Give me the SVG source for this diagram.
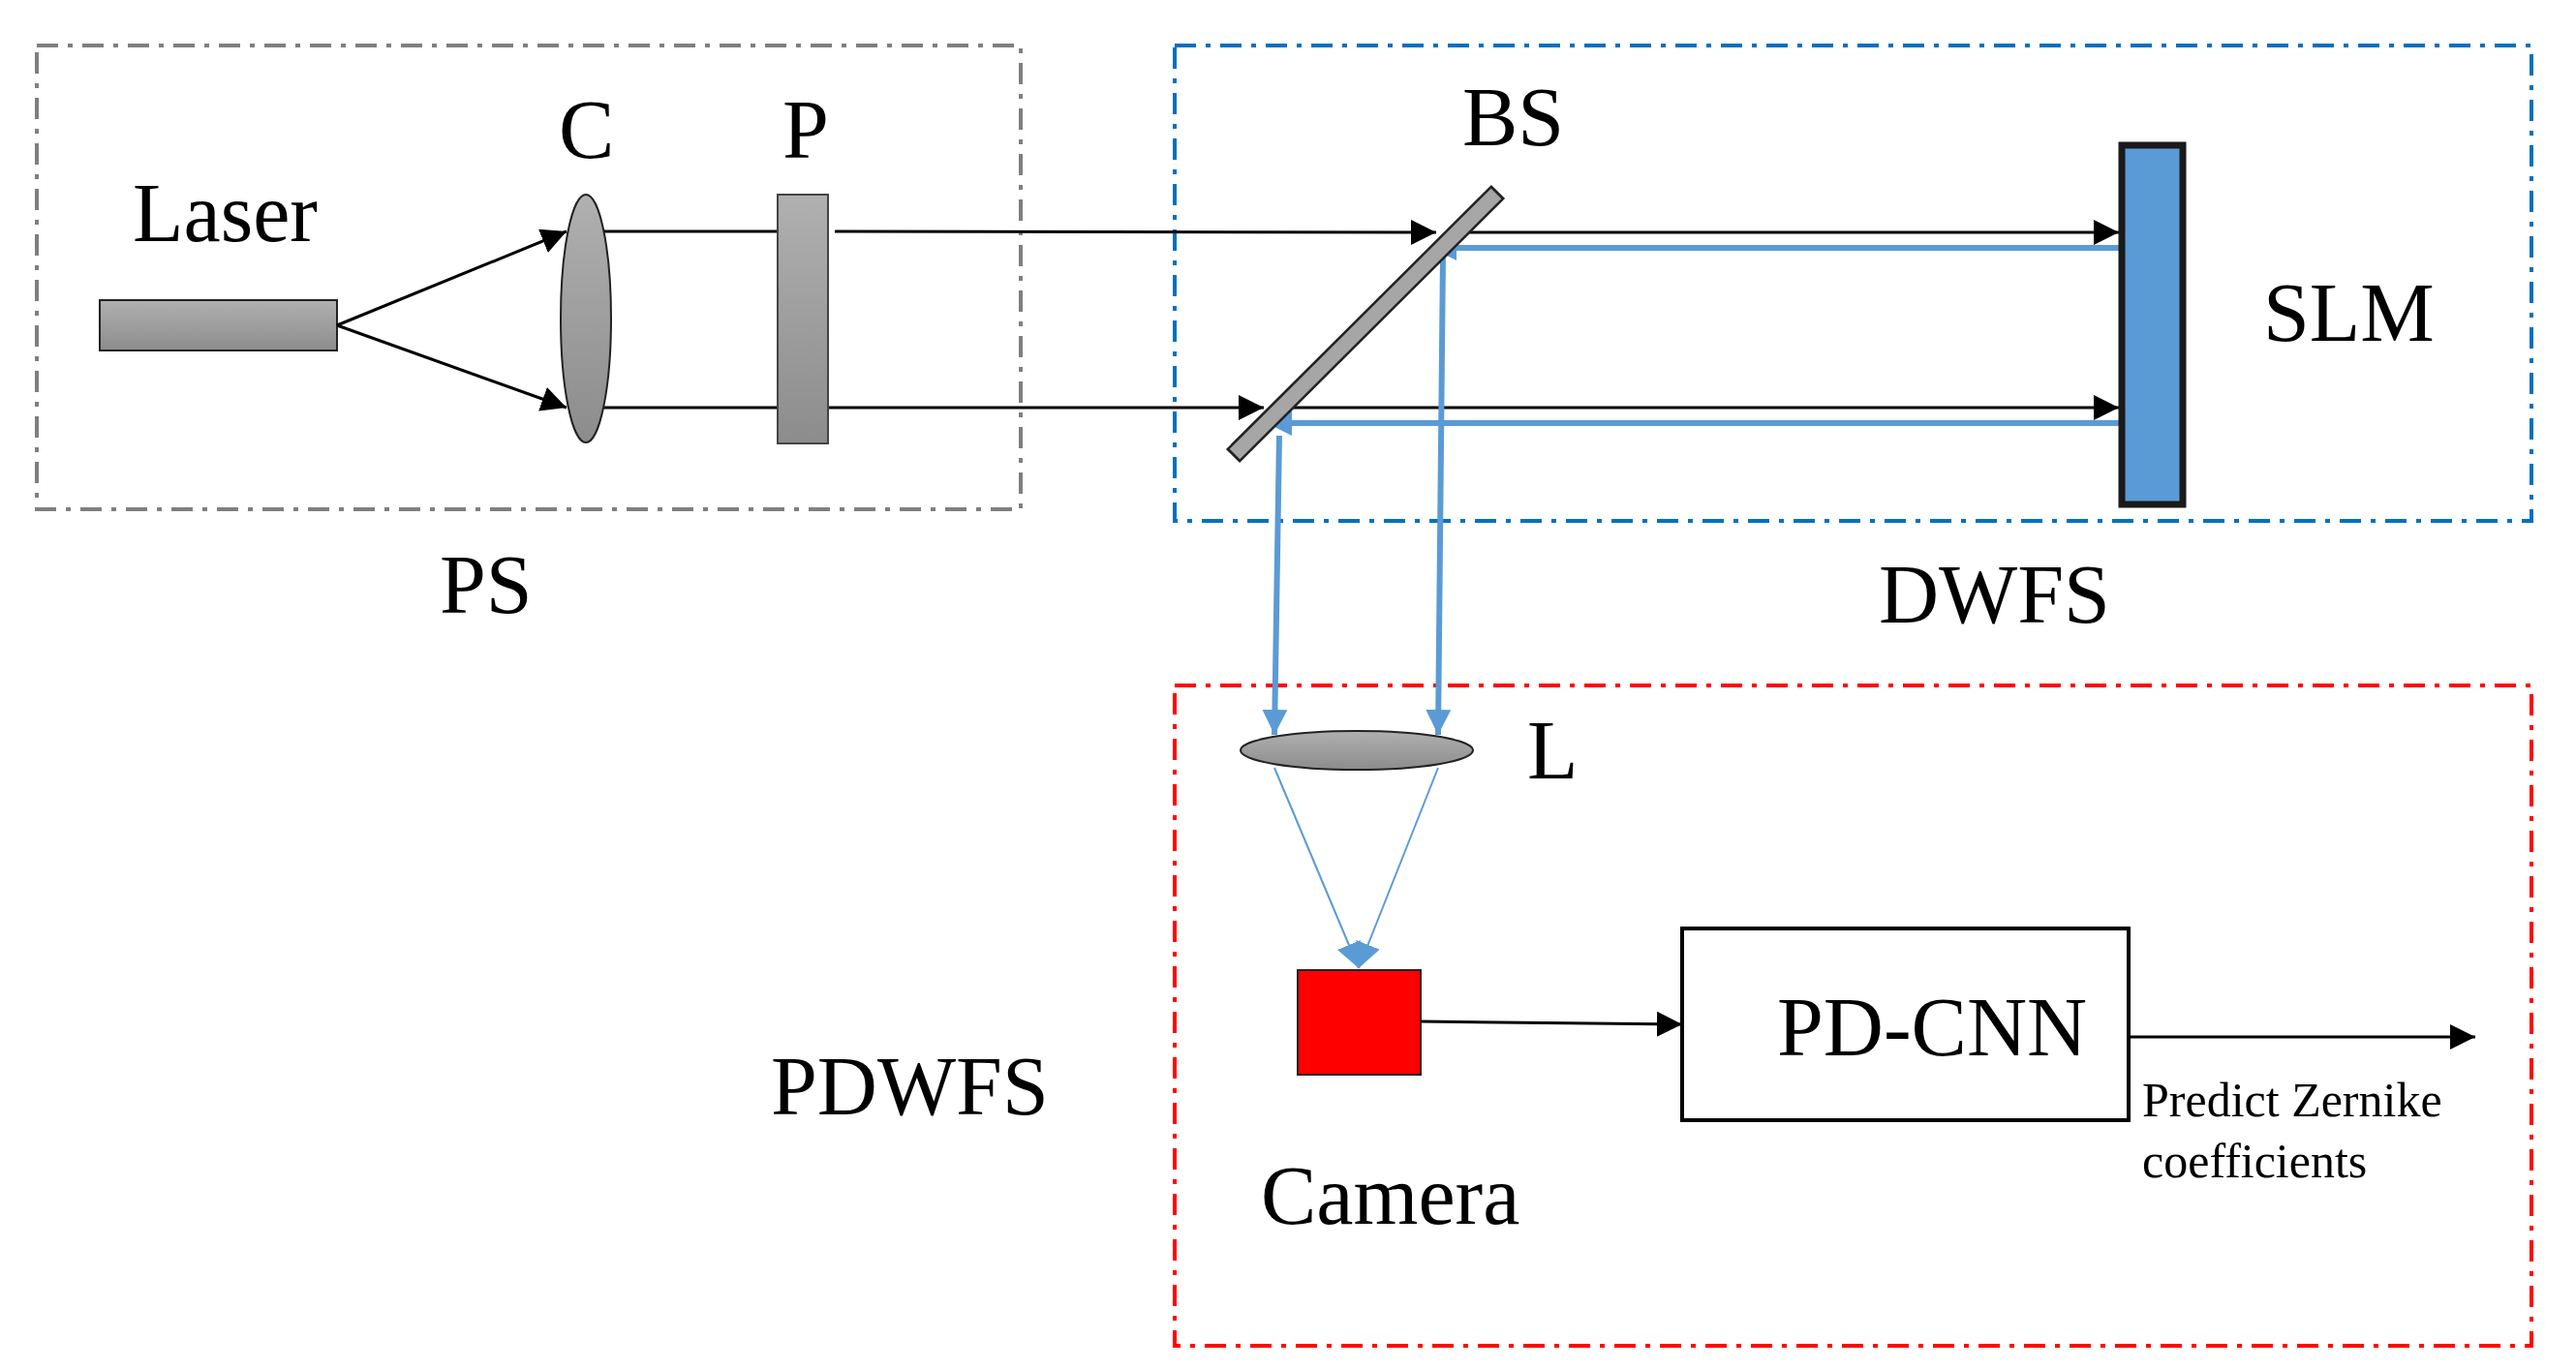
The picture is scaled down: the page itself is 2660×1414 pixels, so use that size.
<svg xmlns="http://www.w3.org/2000/svg" width="2660" height="1414" viewBox="0 0 2660 1414">
<defs>
<linearGradient id="g" x1="0" y1="0" x2="0" y2="1"><stop offset="0" stop-color="#b0b0b0"/><stop offset="1" stop-color="#8c8c8c"/></linearGradient>
<marker id="abk" viewBox="0 0 10 10" refX="10" refY="5" markerWidth="26" markerHeight="26" markerUnits="userSpaceOnUse" orient="auto"><path d="M0,0 L10,5 L0,10 z" fill="#000"/></marker>
<marker id="abl" viewBox="0 0 10 10" refX="10" refY="5" markerWidth="26" markerHeight="26" markerUnits="userSpaceOnUse" orient="auto"><path d="M0,0 L10,5 L0,10 z" fill="#5b9bd5"/></marker>
</defs>
<style>
text{font-family:"Liberation Serif","Times New Roman",serif;fill:#000}
.big{font-size:86px}
.sm{font-size:50px}
.box{fill:none;stroke-width:4;stroke-dasharray:22 10 5 10}
.k{stroke:#000;stroke-width:3;fill:none}
.b{stroke:#5b9bd5;stroke-width:6;fill:none}
.bt{stroke:#5b9bd5;stroke-width:2;fill:none}
</style>
<rect width="2660" height="1414" fill="#fff"/>
<g id="ps"><rect class="box" x="38" y="47" width="1016" height="479" stroke="#7f7f7f"/><text class="big" x="454" y="633">PS</text></g>
<g id="dwfs"><rect class="box" x="1213" y="47" width="1401" height="491" stroke="#0070c0"/><text class="big" x="1940" y="643">DWFS</text></g>
<g id="pdwfs"><rect class="box" x="1213" y="708" width="1401" height="682" stroke="#ff0000"/><text class="big" x="796" y="1151">PDWFS</text></g>
<g id="laser"><rect x="103" y="310" width="245" height="52" fill="url(#g)" stroke="#222" stroke-width="2"/><text class="big" x="137" y="249">Laser</text></g>
<g id="connectors">
<line class="k" x1="348" y1="336" x2="585" y2="239" marker-end="url(#abk)"/>
<line class="k" x1="348" y1="336" x2="585" y2="421" marker-end="url(#abk)"/>
<line class="k" x1="605" y1="239" x2="803" y2="239"/>
<line class="k" x1="605" y1="421" x2="803" y2="421"/>
<line class="k" x1="862" y1="239" x2="1483" y2="240" marker-end="url(#abk)"/>
<line class="k" x1="853" y1="421" x2="1305" y2="421" marker-end="url(#abk)"/>
<line class="k" x1="1500" y1="240" x2="2188" y2="240" marker-end="url(#abk)"/>
<line class="k" x1="1320" y1="421" x2="2188" y2="421" marker-end="url(#abk)"/>
<line class="b" x1="2188" y1="256" x2="1478" y2="256" marker-end="url(#abl)"/>
<line class="b" x1="2188" y1="437" x2="1308" y2="437" marker-end="url(#abl)"/>
<line class="b" x1="1490" y1="263" x2="1485" y2="759" marker-end="url(#abl)"/>
<line class="b" x1="1321" y1="450" x2="1316" y2="759" marker-end="url(#abl)"/>
<line class="bt" x1="1316" y1="793" x2="1403" y2="1000" marker-end="url(#abl)"/>
<line class="bt" x1="1485" y1="793" x2="1403" y2="1000" marker-end="url(#abl)"/>
<line class="k" x1="1467" y1="1055" x2="1737" y2="1058" marker-end="url(#abk)"/>
<line class="k" x1="2198" y1="1071" x2="2556" y2="1071" marker-end="url(#abk)"/>
</g>
<g id="C"><ellipse cx="605" cy="329" rx="26" ry="128" fill="url(#g)" stroke="#222" stroke-width="2"/><text class="big" x="577" y="163">C</text></g>
<g id="P"><rect x="803" y="201" width="52" height="257" fill="url(#g)" stroke="#444" stroke-width="2"/><text class="big" x="808" y="163">P</text></g>
<g id="BS"><line x1="1273" y1="471" x2="1547" y2="198" stroke="#222" stroke-width="20"/><line x1="1275" y1="469" x2="1545" y2="200" stroke="#a6a6a6" stroke-width="15"/><text class="big" x="1510" y="150">BS</text></g>
<g id="SLM"><rect x="2191" y="150" width="63" height="371" fill="#5b9bd5" stroke="#1a1a1a" stroke-width="7"/><text class="big" x="2337" y="352">SLM</text></g>
<g id="L"><ellipse cx="1401" cy="775" rx="120" ry="20" fill="url(#g)" stroke="#222" stroke-width="2"/><text class="big" x="1577" y="804">L</text></g>
<g id="camera"><rect x="1340" y="1002" width="127" height="108" fill="#ff0000" stroke="#222" stroke-width="2"/><text class="big" x="1302" y="1264">Camera</text></g>
<g id="pdcnn"><rect x="1737" y="959" width="461" height="198" fill="#fff" stroke="#000" stroke-width="4"/><text class="big" x="1835" y="1090">PD-CNN</text></g>
<g id="out"><text class="sm" x="2212" y="1153">Predict Zernike</text><text class="sm" x="2212" y="1216">coefficients</text></g>
</svg>
